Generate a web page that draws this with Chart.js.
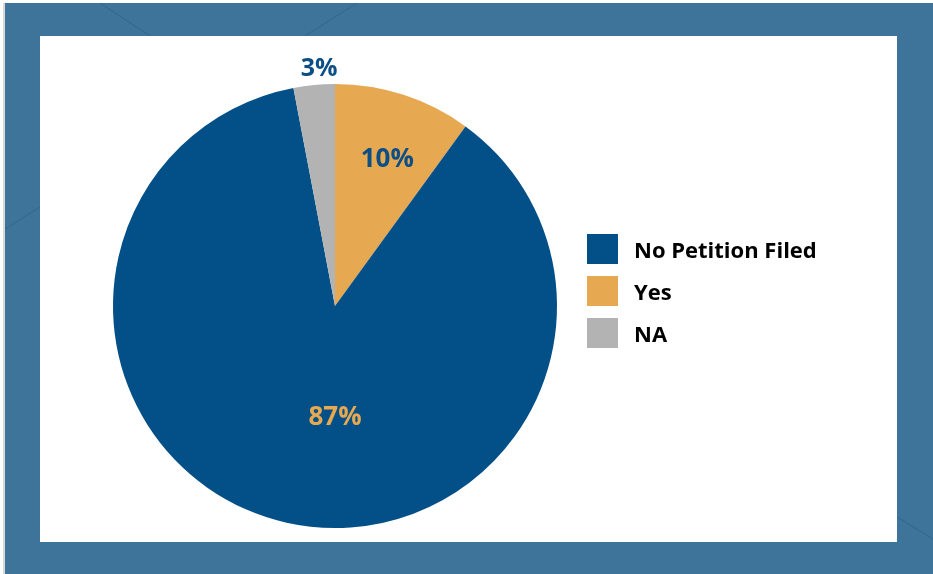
<!DOCTYPE html>
<html>
<head>
<meta charset="utf-8">
<title>Petition Filed</title>
<script src="https://cdn.jsdelivr.net/npm/chart.js@4/dist/chart.umd.min.js"></script>
<style>
  html, body { margin: 0; padding: 0; background: #ffffff; }
  #wrap { position: relative; width: 933px; height: 574px; }
  canvas { display: block; }
</style>
</head>
<body>
<div id="wrap"><canvas id="pie" width="933" height="574"></canvas></div>
<script>
// Categories in legend order
const categories = ['No Petition Filed', 'Yes', 'NA'];
// Share of cases, percent
const shares = [87, 10, 3];
// Slice colours, same order as categories
const sliceColors = ['#025087', '#e6a851', '#b3b3b3'];
// Clockwise drawing order of the slices, starting at 12 o'clock
const sliceOrder = [1, 0, 2];
// Text printed on each slice
const shareLabels = ['87%', '10%', '3%'];

const FRAME = '#3e749a';
const FONT = "'Open Sans', 'Noto Sans', sans-serif";

// Where each percentage sits: distance as a fraction of the radius,
// optional fixed direction (degrees clockwise from 12 o'clock)
const labelSpots = {
  'No Petition Filed': { dist: 0.5, dir: 180, color: '#e6a851', size: 26 },
  'Yes':               { dist: 0.705, dir: 19.5, color: '#0b4f86', size: 26 },
  'NA':                { dist: 1.075, dir: 356.2, color: '#0b4f86', size: 25 }
};

// Frame: blue border with faint diagonals around a white panel
const framePlugin = {
  id: 'frame',
  beforeDraw(chart) {
    const ctx = chart.ctx;
    const W = chart.width, H = chart.height;
    ctx.save();
    ctx.fillStyle = '#ffffff';
    ctx.fillRect(0, 0, W, H);
    ctx.fillStyle = '#d9d9d9';
    ctx.fillRect(3, 3, 2, H - 3);
    ctx.fillStyle = FRAME;
    ctx.fillRect(5, 3, W - 5, H - 3);
    ctx.strokeStyle = 'rgba(40, 82, 120, 0.45)';
    ctx.lineWidth = 1;
    const segs = [[100, 3, 150, 36], [357, 3, 305, 36], [5, 229, 40, 207], [897, 517, 933, 539]];
    segs.forEach(s => {
      ctx.beginPath();
      ctx.moveTo(s[0], s[1]);
      ctx.lineTo(s[2], s[3]);
      ctx.stroke();
    });
    ctx.fillStyle = '#ffffff';
    ctx.fillRect(40, 36, 857, 506);
    ctx.restore();
  }
};

// Percentage labels placed from each arc's geometry
const shareLabelPlugin = {
  id: 'shareLabels',
  afterDatasetsDraw(chart) {
    const ctx = chart.ctx;
    const meta = chart.getDatasetMeta(0);
    ctx.save();
    ctx.textAlign = 'center';
    ctx.textBaseline = 'middle';
    meta.data.forEach((arc, i) => {
      const catIdx = sliceOrder[i];
      const spot = labelSpots[categories[catIdx]];
      const p = arc.getProps(['x', 'y', 'startAngle', 'endAngle', 'outerRadius'], true);
      let ang = (p.startAngle + p.endAngle) / 2;
      if (spot.dir !== undefined) ang = (spot.dir - 90) * Math.PI / 180;
      const r = p.outerRadius * spot.dist;
      ctx.fillStyle = spot.color;
      ctx.font = `bold ${spot.size}px ${FONT}`;
      ctx.fillText(shareLabels[catIdx], p.x + Math.cos(ang) * r, p.y + Math.sin(ang) * r + 1);
    });
    ctx.restore();
  }
};

// Legend drawn to the right of the pie
const sideLegendPlugin = {
  id: 'sideLegend',
  afterDraw(chart) {
    const ctx = chart.ctx;
    const left = 587, top = 234, box = 31, boxH = 30, step = 42, gap = 16;
    ctx.save();
    ctx.textAlign = 'left';
    ctx.textBaseline = 'middle';
    ctx.font = `bold 22px ${FONT}`;
    categories.forEach((name, i) => {
      const y = top + i * step;
      ctx.fillStyle = sliceColors[i];
      ctx.fillRect(left, y, box, boxH);
      ctx.fillStyle = '#000000';
      ctx.fillText(name, left + box + gap, y + boxH / 2 + 2.5);
    });
    ctx.restore();
  }
};

new Chart(document.getElementById('pie'), {
  type: 'pie',
  data: {
    labels: sliceOrder.map(i => categories[i]),
    datasets: [{
      data: sliceOrder.map(i => shares[i]),
      backgroundColor: sliceOrder.map(i => sliceColors[i]),
      borderWidth: 0
    }]
  },
  options: {
    responsive: false,
    animation: false,
    rotation: 0,
    layout: { padding: { left: 113, top: 84, right: 376, bottom: 46 } },
    plugins: {
      legend: { display: false },
      tooltip: { enabled: false }
    }
  },
  plugins: [framePlugin, shareLabelPlugin, sideLegendPlugin]
});
</script>
</body>
</html>
